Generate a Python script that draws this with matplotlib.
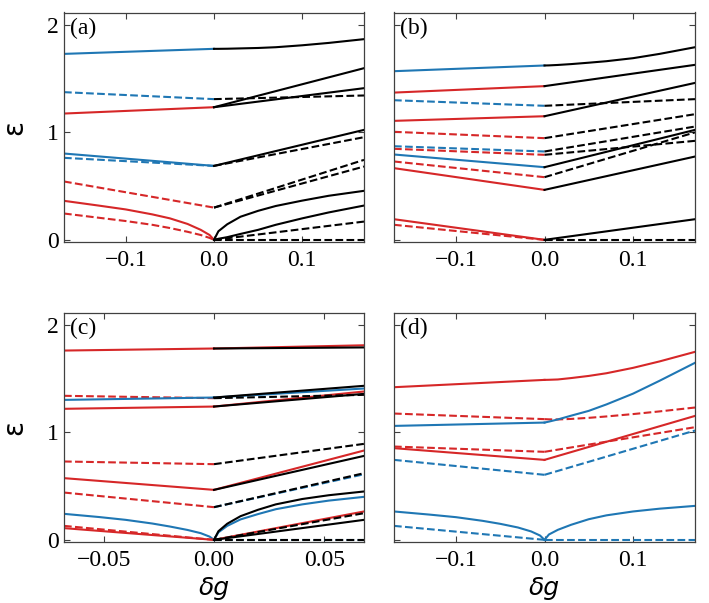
import numpy as np
import matplotlib.pyplot as plt

plt.rcParams['font.family'] = ['Liberation Serif', 'DejaVu Serif']
plt.rcParams['axes.unicode_minus'] = True

# x grids: 2-point lines use the ends, 9-point lines use the full grid
xl_wide = [-0.17, -0.13, -0.1, -0.07, -0.05, -0.03, -0.015, -0.005, 0.0]
xr_wide = [0.0, 0.005, 0.015, 0.03, 0.05, 0.07, 0.1, 0.13, 0.17]
xl_narrow = [-0.068, -0.052, -0.04, -0.028, -0.02, -0.012, -0.006, -0.002, 0.0]
xr_narrow = [0.0, 0.002, 0.006, 0.012, 0.02, 0.028, 0.04, 0.052, 0.068]

ticks_wide = [-0.1, 0.0, 0.1]
ticklabels_wide = ['\u22120.1', '0.0', '0.1']
ticks_narrow = [-0.05, 0.0, 0.05]
ticklabels_narrow = ['\u22120.05', '0.00', '0.05']

# kinds: B/b blue solid/dashed, R/r red, K/k black
# panel (a)
a_left = [[1.73, 1.777], [1.374, 1.309], [1.175, 1.234], [0.803, 0.688],
          [0.763, 0.688], [0.543, 0.30],
          [0.363, 0.318, 0.283, 0.237, 0.20, 0.148, 0.093, 0.045, 0.0],
          [0.245, 0.205, 0.175, 0.14, 0.11, 0.075, 0.045, 0.018, 0.0]]
a_left_kind = 'BbRBbrRr'
a_right = [[1.777, 1.777, 1.778, 1.781, 1.785, 1.792, 1.81, 1.832, 1.867],
           [1.309, 1.343], [1.234, 1.597], [1.234, 1.411], [0.688, 1.023],
           [0.688, 0.955], [0.30, 0.744], [0.30, 0.682],
           [0.0, 0.08, 0.145, 0.215, 0.27, 0.315, 0.365, 0.41, 0.456],
           [0.0, 0.01, 0.025, 0.055, 0.093, 0.14, 0.2, 0.255, 0.319],
           [0.0, 0.17], [0.0, 0.0]]
a_right_kind = 'KkKKKkkkKKkk'

# panel (b)
b_left = [[1.569, 1.622], [1.37, 1.43], [1.299, 1.247], [1.107, 1.15],
          [1.005, 0.946], [0.871, 0.822], [0.847, 0.791], [0.794, 0.676],
          [0.729, 0.583], [0.667, 0.465], [0.192, 0.0], [0.14, 0.0]]
b_left_kind = 'BRbRrbrBrRRr'
b_right = [[1.622, 1.623, 1.627, 1.635, 1.648, 1.662, 1.69, 1.73, 1.792],
           [1.43, 1.628], [1.247, 1.309], [1.15, 1.46], [0.946, 1.169],
           [0.822, 1.054], [0.791, 0.921], [0.676, 1.023], [0.583, 1.0],
           [0.465, 0.775], [0.0, 0.192], [0.0, 0.0]]
b_right_kind = 'KKkKkkkKkKKk'

# panel (c)
c_left = [[1.761, 1.78], [1.34, 1.318], [1.302, 1.324], [1.219, 1.24],
          [0.729, 0.704], [0.574, 0.465], [0.44, 0.304],
          [0.242, 0.212, 0.186, 0.152, 0.124, 0.092, 0.062, 0.03, 0.0],
          [0.13, 0.0], [0.109, 0.0]]
c_left_kind = 'RrBRrRrBrR'
c_right = [[1.78, 1.81], [1.324, 1.408], [1.24, 1.38], [0.465, 0.831],
           [0.304, 0.61],
           [0.0, 0.07, 0.13, 0.19, 0.24, 0.285, 0.33, 0.365, 0.40],
           [0.0, 0.264], [0.0, 0.0],
           [1.78, 1.79], [1.324, 1.433], [1.318, 1.349], [1.24, 1.358],
           [0.704, 0.893], [0.465, 0.781], [0.304, 0.62],
           [0.0, 0.08, 0.15, 0.22, 0.28, 0.33, 0.38, 0.415, 0.45],
           [0.0, 0.248], [0.0, 0.186], [0.0, 0.0]]
c_right_kind = 'RBRRbBRbKKkKkKkKkKk'

# panel (d)
d_left = [[1.42, 1.488], [1.175, 1.123], [1.06, 1.091], [0.868, 0.819],
          [0.853, 0.744], [0.744, 0.605],
          [0.264, 0.235, 0.211, 0.177, 0.149, 0.115, 0.078, 0.04, 0.0],
          [0.13, 0.0]]
d_left_kind = 'RrBrRbBb'
d_right = [[1.488, 1.489, 1.492, 1.505, 1.525, 1.55, 1.6, 1.66, 1.749],
           [1.123, 1.121, 1.12, 1.125, 1.135, 1.148, 1.17, 1.195, 1.231],
           [1.091, 1.1, 1.12, 1.155, 1.2, 1.26, 1.36, 1.48, 1.647],
           [0.819, 1.048], [0.744, 1.153], [0.605, 1.017],
           [0.0, 0.05, 0.093, 0.14, 0.192, 0.228, 0.264, 0.29, 0.316],
           [0.0, 0.0]]
d_right_kind = 'RrBrRbBb'

styles = {'B': ('#1f77b4', '-'), 'b': ('#1f77b4', '--'),
          'R': ('#d62728', '-'), 'r': ('#d62728', '--'),
          'K': ('black', '-'), 'k': ('black', '--')}


def draw_side(ax, grid, curves, kinds):
    for vals, kind in zip(curves, kinds):
        if len(vals) == 2:
            xs = [grid[0], grid[-1]]
        else:
            xs = grid
        col, ls = styles[kind]
        ax.plot(xs, vals, color=col, linestyle=ls, lw=1.5)


fig = plt.figure(figsize=(7.09, 6.03), dpi=100)
w_l, w_r = 300 / 709, 301 / 709
h = 229.5 / 603
boxes = [[64 / 709, 361 / 603, w_l, h], [394 / 709, 361 / 603, w_r, h],
         [64 / 709, 61 / 603, w_l, h], [394 / 709, 61 / 603, w_r, h]]

panels = [
    ('(a)', xl_wide, xr_wide, a_left, a_left_kind, a_right, a_right_kind),
    ('(b)', xl_wide, xr_wide, b_left, b_left_kind, b_right, b_right_kind),
    ('(c)', xl_narrow, xr_narrow, c_left, c_left_kind, c_right, c_right_kind),
    ('(d)', xl_wide, xr_wide, d_left, d_left_kind, d_right, d_right_kind),
]

for i, (lab, xl, xr, L, Lk, R, Rk) in enumerate(panels):
    ax = fig.add_axes(boxes[i])
    draw_side(ax, xl, L, Lk)
    draw_side(ax, xr, R, Rk)
    ax.set_xlim(xl[0], xr[-1])
    ax.set_ylim(-0.02, 2.115)
    if lab == '(c)':
        ax.set_xticks(ticks_narrow)
        ax.set_xticklabels(ticklabels_narrow)
    else:
        ax.set_xticks(ticks_wide)
        ax.set_xticklabels(ticklabels_wide)
    ax.set_yticks([0, 1, 2])
    if i % 2 == 0:
        ax.set_yticklabels(['0', '1', '2'])
        ax.set_ylabel('\u03b5', family='DejaVu Sans', fontsize=20, labelpad=14)
    else:
        ax.set_yticklabels([])
    if i >= 2:
        ax.set_xlabel('\u03b4g', family='DejaVu Sans', style='italic',
                      fontsize=18, labelpad=3)
    ax.tick_params(direction='in', top=True, right=True, length=4, width=0.8,
                   labelsize=17, color='0.25')
    ax.tick_params(axis='x', pad=6)
    for s in ax.spines.values():
        s.set_linewidth(0.9)
        s.set_color('0.25')
    ax.text(0.02, 0.975, lab, transform=ax.transAxes, ha='left', va='top',
            fontsize=17)

fig.savefig('out.png', dpi=100)
